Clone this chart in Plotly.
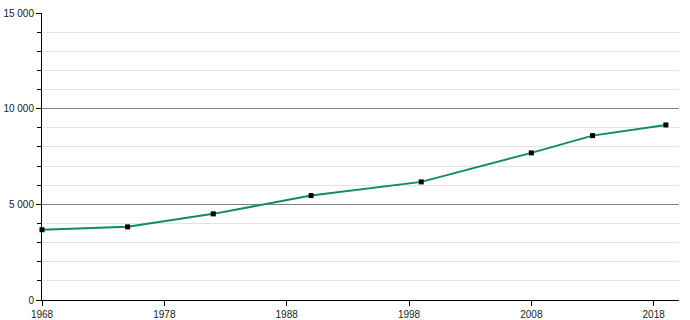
import plotly.graph_objects as go

years = [1968, 1975, 1982, 1990, 1999, 2008, 2013, 2019]
population = [3671, 3823, 4502, 5458, 6173, 7688, 8591, 9150]
x_ticks = [1968, 1978, 1988, 1998, 2008, 2018]
y_ticks = [0, 5000, 10000, 15000]
y_tick_labels = ["0", "5 000", "10 000", "15 000"]

fig = go.Figure()
fig.add_trace(go.Scatter(
    x=years, y=population, mode="lines+markers",
    line=dict(color="#108a68", width=2),
    marker=dict(symbol="square", size=5, color="#000000"),
    hoverinfo="x+y",
    cliponaxis=False,
))

fig.update_layout(
    width=690, height=320,
    margin=dict(l=42, r=11, t=13, b=20, autoexpand=False),
    paper_bgcolor="white", plot_bgcolor="white",
    showlegend=False,
    font=dict(family="Liberation Sans, Arial, sans-serif", size=10, color="#222"),
)
fig.update_xaxes(
    range=[1968, 2020.07],
    tickvals=x_ticks, ticktext=[str(v) for v in x_ticks],
    showgrid=False, zeroline=False, automargin=False,
    showline=True, linecolor="#000", linewidth=1,
    ticks="outside", ticklen=5, tickcolor="#000",
)
fig.update_yaxes(
    range=[0, 15000],
    tickvals=y_ticks, ticktext=y_tick_labels,
    showgrid=True, gridcolor="#808080", gridwidth=1,
    zeroline=False, automargin=False,
    showline=True, linecolor="#000", linewidth=1,
    ticks="outside", ticklen=5, tickcolor="#000",
    minor=dict(dtick=1000, tick0=0, showgrid=True, gridcolor="#e3e3e3",
               ticks="outside", ticklen=4, tickcolor="#000"),
)

fig.write_html("out.html")
